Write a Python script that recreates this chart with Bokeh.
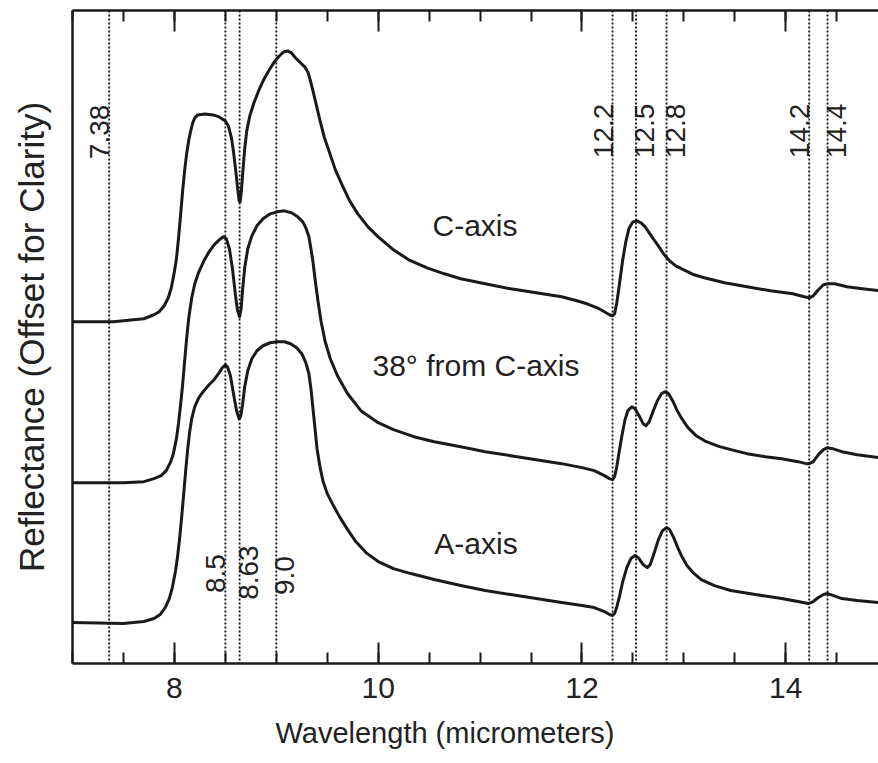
from bokeh.plotting import figure
from bokeh.models import (Range1d, LinearAxis, SingleIntervalTicker, FixedTicker,
                          Span, Title, ColumnDataSource)
from bokeh.embed import file_html
from bokeh.resources import INLINE
from bokeh.core.properties import value

# ---------------- data (wavelength in micrometers, reflectance in offset units) ----------
wl_c = [7.00, 7.40, 7.70, 7.80, 7.85, 7.90, 7.94, 7.97, 8.00, 8.02, 8.04, 8.06, 8.08, 8.10,
        8.12, 8.14, 8.16, 8.18, 8.20, 8.23, 8.30, 8.38, 8.44, 8.50, 8.53, 8.56, 8.58, 8.60,
        8.62, 8.635, 8.645, 8.655, 8.67, 8.69, 8.71, 8.74, 8.78, 8.83, 8.88, 8.93, 8.98, 9.03,
        9.07, 9.11, 9.15, 9.19, 9.22, 9.25, 9.28, 9.31, 9.33, 9.36, 9.39, 9.43, 9.47, 9.52,
        9.58, 9.65, 9.72, 9.80, 9.90, 10.00, 10.15, 10.30, 10.48, 10.65, 10.81, 11.05, 11.30,
        11.55, 11.80, 11.95, 12.05, 12.15, 12.22, 12.27, 12.30, 12.32, 12.34, 12.36, 12.38,
        12.40, 12.43, 12.46, 12.50, 12.54, 12.58, 12.62, 12.66, 12.70, 12.75, 12.80, 12.86,
        12.92, 13.00, 13.10, 13.20, 13.40, 13.62, 13.85, 14.07, 14.18, 14.23, 14.27, 14.32,
        14.37, 14.42, 14.48, 14.60, 14.75, 14.92]
refl_c = [3.42, 3.42, 3.45, 3.49, 3.52, 3.58, 3.66, 3.76, 3.92, 4.05, 4.25, 4.48, 4.72, 4.93,
          5.10, 5.23, 5.33, 5.41, 5.46, 5.49, 5.50, 5.49, 5.47, 5.43, 5.38, 5.26, 5.12, 4.95,
          4.76, 4.63, 4.62, 4.70, 4.90, 5.15, 5.33, 5.48, 5.61, 5.74, 5.85, 5.94, 6.02, 6.08,
          6.12, 6.13, 6.11, 6.06, 6.03, 6.00, 5.97, 5.92, 5.85, 5.73, 5.60, 5.43, 5.27, 5.12,
          4.94, 4.78, 4.63, 4.50, 4.37, 4.27, 4.14, 4.04, 3.96, 3.90, 3.85, 3.80, 3.75,
          3.71, 3.67, 3.63, 3.60, 3.56, 3.52, 3.49, 3.48, 3.50, 3.60, 3.74, 3.89,
          4.04, 4.22, 4.35, 4.42, 4.43, 4.41, 4.37, 4.31, 4.25, 4.18, 4.10, 4.03,
          3.98, 3.94, 3.89, 3.86, 3.81, 3.77, 3.73, 3.70, 3.67, 3.66, 3.68, 3.74,
          3.79, 3.80, 3.80, 3.77, 3.75, 3.73]

wl_38 = [7.00, 7.50, 7.70, 7.80, 7.87, 7.92, 7.96, 7.99, 8.02, 8.04, 8.06, 8.08, 8.10, 8.12,
         8.14, 8.17, 8.20, 8.24, 8.29, 8.34, 8.39, 8.44, 8.48, 8.51, 8.54, 8.57, 8.60, 8.62,
         8.64, 8.655, 8.67, 8.69, 8.72, 8.76, 8.81, 8.87, 8.94, 9.01, 9.08, 9.15, 9.21, 9.26,
         9.29, 9.32, 9.34, 9.36, 9.38, 9.41, 9.44, 9.48, 9.53, 9.60, 9.70, 9.83, 10.00, 10.15,
         10.35, 10.55, 10.81, 11.05, 11.30, 11.55, 11.80, 12.00, 12.12, 12.22, 12.27, 12.30,
         12.32, 12.34, 12.36, 12.39, 12.42, 12.45, 12.49, 12.52, 12.56, 12.60, 12.63, 12.66,
         12.70, 12.74, 12.78, 12.82, 12.85, 12.89, 12.93, 12.98, 13.04, 13.12, 13.22, 13.35,
         13.50, 13.62, 13.80, 13.96, 14.12, 14.20, 14.23, 14.27, 14.32, 14.37, 14.41, 14.46,
         14.55, 14.70, 14.92]
refl_38 = [1.81, 1.81, 1.82, 1.85, 1.88, 1.93, 2.01, 2.10, 2.25, 2.40, 2.58, 2.78, 3.02, 3.25,
           3.45, 3.66, 3.80, 3.92, 4.03, 4.12, 4.19, 4.24, 4.27, 4.25, 4.15, 3.95, 3.68, 3.53,
           3.47, 3.55, 3.75, 3.96, 4.15, 4.28, 4.38, 4.45, 4.50, 4.52, 4.53, 4.51, 4.47, 4.42,
           4.36, 4.27, 4.15, 4.02, 3.85, 3.62, 3.42, 3.22, 3.05, 2.88, 2.70, 2.53, 2.41, 2.34,
           2.27, 2.22, 2.17, 2.12, 2.08, 2.04, 2.00, 1.96, 1.93, 1.88, 1.85, 1.84,
           1.87, 1.96, 2.09, 2.27, 2.43, 2.53, 2.57, 2.55, 2.48, 2.40, 2.38, 2.42,
           2.53, 2.63, 2.70, 2.72, 2.70, 2.63, 2.54, 2.45, 2.36, 2.28, 2.22, 2.17,
           2.13, 2.10, 2.07, 2.05, 2.02, 2.00, 2.00, 2.02, 2.09, 2.14, 2.16, 2.15,
           2.12, 2.09, 2.06]

wl_a = [7.00, 7.50, 7.70, 7.80, 7.86, 7.91, 7.95, 7.98, 8.01, 8.03, 8.05, 8.07, 8.09, 8.11,
        8.13, 8.15, 8.17, 8.20, 8.24, 8.29, 8.34, 8.39, 8.44, 8.47, 8.50, 8.52, 8.55, 8.58,
        8.61, 8.635, 8.65, 8.67, 8.69, 8.72, 8.76, 8.81, 8.87, 8.94, 9.01, 9.08, 9.14, 9.20,
        9.25, 9.29, 9.32, 9.34, 9.36, 9.38, 9.40, 9.43, 9.46, 9.50, 9.55, 9.62, 9.70, 9.78,
        9.88, 10.00, 10.15, 10.32, 10.55, 10.81, 11.05, 11.30, 11.55, 11.80, 12.00, 12.12,
        12.22, 12.27, 12.30, 12.32, 12.34, 12.37, 12.40, 12.44, 12.48, 12.52, 12.56, 12.60,
        12.64, 12.67, 12.71, 12.75, 12.79, 12.83, 12.86, 12.90, 12.94, 12.98, 13.03, 13.09,
        13.17, 13.30, 13.46, 13.70, 13.96, 14.12, 14.22, 14.27, 14.32, 14.37, 14.41, 14.47,
        14.55, 14.70, 14.92]
refl_a = [0.41, 0.40, 0.42, 0.45, 0.49, 0.56, 0.65, 0.76, 0.92, 1.06, 1.24, 1.45, 1.68, 1.92,
          2.14, 2.32, 2.45, 2.57, 2.66, 2.73, 2.79, 2.84, 2.91, 2.96, 2.99, 2.97, 2.88, 2.70,
          2.53, 2.45, 2.47, 2.60, 2.77, 2.93, 3.05, 3.13, 3.18, 3.21, 3.22, 3.22, 3.20, 3.16,
          3.10, 3.01, 2.90, 2.75, 2.55, 2.35, 2.15, 1.96, 1.82, 1.70, 1.60, 1.47, 1.34, 1.22,
          1.11, 1.02, 0.95, 0.90, 0.84, 0.78, 0.73, 0.69, 0.65, 0.61, 0.58, 0.56,
          0.52, 0.49, 0.48, 0.50, 0.56, 0.68, 0.82, 0.96, 1.05, 1.08, 1.05, 0.99,
          0.96, 0.99, 1.11, 1.24, 1.33, 1.36, 1.34, 1.26, 1.16, 1.07, 0.98, 0.91,
          0.84, 0.78, 0.73, 0.69, 0.65, 0.62, 0.60, 0.62, 0.66, 0.69, 0.70, 0.68,
          0.65, 0.63, 0.61]

line_pos = [7.36, 8.50, 8.64, 9.00, 12.30, 12.53, 12.83, 14.23, 14.41]
line_labels = ["7.38", "8.5", "8.63", "9.0", "12.2", "12.5", "12.8", "14.2", "14.4"]
curve_names = ["C-axis", "38° from C-axis", "A-axis"]

# ---------------- annotation placement (not data) ----------------
line_label_y = [5.32, 0.90, 0.91, 0.88, 5.33, 5.33, 5.33, 5.33, 5.33]
line_label_side = ["L", "L", "R", "R", "L", "R", "R", "L", "R"]
name_x = [10.95, 10.96, 10.96]
name_y = [4.38, 2.98, 1.20]

FONT = "Liberation Sans"
INK = "#1a1a1a"
TXT = "#222222"

p = figure(width=878, height=763, x_range=Range1d(7, 14.91), y_range=Range1d(0, 6.535),
           output_backend="svg", toolbar_location=None,
           min_border_left=72, min_border_right=0, min_border_top=10, min_border_bottom=100)
p.grid.visible = False
p.outline_line_color = None
p.background_fill_color = "white"
p.border_fill_color = "white"

# dotted reference lines
for xpos in line_pos:
    p.add_layout(Span(location=xpos, dimension="height", line_color="#111111",
                      line_width=1.8, line_dash="2 2"))

# spectra
for wl, rf in [(wl_c, refl_c), (wl_38, refl_38), (wl_a, refl_a)]:
    p.line(wl, rf, line_color=INK, line_width=3, line_join="round", line_cap="round")

# rotated labels of the reference lines
def pick(vals, side):
    return [v for v, s in zip(vals, line_label_side) if s == side]

for side, base, off in [("L", "bottom", 0), ("R", "top", -1)]:
    src = ColumnDataSource(dict(x=pick(line_pos, side), y=pick(line_label_y, side),
                                t=pick(line_labels, side)))
    p.text(x="x", y="y", text="t", source=src, angle=1.5707963,
           text_align="center", text_baseline=base, x_offset=off,
           text_font=value(FONT), text_font_size="28px", text_color=TXT)

# curve names
p.text(x=name_x, y=name_y, text=curve_names, text_align="center", text_baseline="middle",
       text_font=value(FONT), text_font_size="30px", text_color=TXT)

# axes
def style_x(ax):
    ax.ticker = SingleIntervalTicker(interval=2, num_minor_ticks=4)
    ax.axis_line_width = 2.5
    ax.axis_line_color = INK
    ax.major_tick_in = 21
    ax.major_tick_out = 0
    ax.minor_tick_in = 11
    ax.minor_tick_out = 0
    ax.major_tick_line_width = 2
    ax.minor_tick_line_width = 2
    ax.major_tick_line_color = INK
    ax.minor_tick_line_color = INK

xa = p.xaxis[0]
style_x(xa)
xa.major_label_text_font = FONT
xa.major_label_text_font_size = "30px"
xa.major_label_text_color = TXT
xa.major_label_standoff = 14

top = LinearAxis()
style_x(top)
top.major_label_text_color = None
top.major_label_text_font_size = "1px"
top.major_label_standoff = 0
p.add_layout(top, "above")

ya = p.yaxis[0]
ya.ticker = FixedTicker(ticks=[])
ya.axis_line_width = 2.5
ya.axis_line_color = INK
ya.axis_label = "Reflectance (Offset for Clarity)"
ya.axis_label_text_font = FONT
ya.axis_label_text_font_size = "35px"
ya.axis_label_text_font_style = "normal"
ya.axis_label_text_color = TXT
ya.axis_label_standoff = 22

p.add_layout(Title(text="Wavelength (micrometers)", align="left", offset=203,
                   text_font=FONT, text_font_size="29px", text_font_style="normal",
                   text_color=TXT, standoff=28), "below")

open("out.html", "w").write(file_html(p, INLINE))
